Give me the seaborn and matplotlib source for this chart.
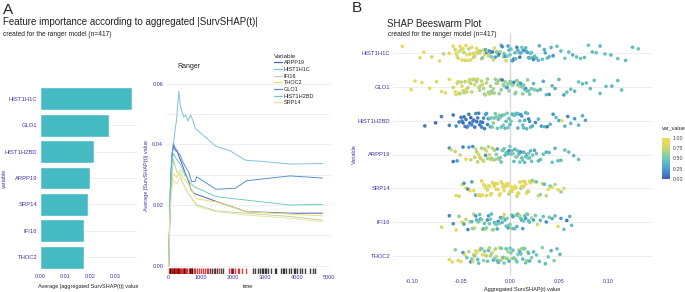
import numpy as np
import pandas as pd
import matplotlib.pyplot as plt
import seaborn as sns
from matplotlib.colors import LinearSegmentedColormap, Normalize
from matplotlib.cm import ScalarMappable

sns.set_style('white')
plt.rcParams['font.family'] = ['Liberation Sans', 'DejaVu Sans']

PURPLE = '#4433b0'
GRID = '#ebebeb'

# ---- panel A, left: aggregated importance
bar_vars = ['HIST1H1C', 'GLO1', 'HIST1H2BD', 'ARPP19', 'SRP14', 'IFI16', 'THOC2']
bar_vals = [0.0367, 0.0276, 0.0217, 0.0199, 0.0191, 0.0176, 0.0175]

# ---- panel A, right: SurvSHAP(t) over time
legend_order = ['ARPP19', 'HIST1H1C', 'IFI16', 'THOC2', 'GLO1', 'HIST1H2BD', 'SRP14']
line_colors = ['#4a62b5', '#7cc3e0', '#b7d8a0', '#f0dc6a', '#5a8fd6', '#6fd0bd', '#eee2a6']

t_hist1h1c = [0, 60, 100, 140, 190, 245, 316, 367, 418, 469, 530, 602, 684, 750, 827, 1011, 1471, 1931, 2391, 3000, 3784, 4800]
v_hist1h1c = [0, 0.030, 0.037, 0.039, 0.044, 0.048, 0.0576, 0.0524, 0.0507, 0.049, 0.0497, 0.0477, 0.0497, 0.048, 0.0453, 0.0436, 0.0394, 0.0378, 0.0348, 0.0343, 0.0335, 0.0337]
t_glo1 = [0, 50, 100, 146, 200, 260, 353, 450, 613, 717, 821, 873, 1476, 2069, 2432, 3784, 4800]
v_glo1 = [0, 0.025, 0.036, 0.0403, 0.038, 0.0375, 0.0365, 0.034, 0.031, 0.0277, 0.0277, 0.0293, 0.0252, 0.0255, 0.028, 0.0296, 0.0289]
t_arpp19 = [0, 60, 110, 160, 210, 260, 320, 400, 500, 613, 700, 800, 1500, 2432, 3784, 4800]
v_arpp19 = [0, 0.028, 0.037, 0.0398, 0.0385, 0.038, 0.036, 0.034, 0.031, 0.028, 0.025, 0.0238, 0.0211, 0.0178, 0.0173, 0.0173]
t_hist1h2bd = [0, 50, 100, 146, 250, 353, 500, 700, 800, 1500, 2432, 3784, 4800]
v_hist1h2bd = [0, 0.022, 0.034, 0.037, 0.035, 0.0337, 0.030, 0.027, 0.026, 0.0227, 0.0216, 0.020, 0.0202]
t_ifi16 = [0, 50, 100, 150, 250, 350, 450, 600, 873, 1500, 2432, 3784, 4800]
v_ifi16 = [0, 0.018, 0.030, 0.035, 0.031, 0.030, 0.027, 0.024, 0.020, 0.018, 0.0173, 0.0162, 0.015]
t_thoc2 = [0, 40, 100, 146, 250, 353, 450, 613, 873, 1500, 2432, 3784, 4800]
v_thoc2 = [0, 0.020, 0.027, 0.0304, 0.029, 0.0315, 0.029, 0.027, 0.022, 0.021, 0.0178, 0.017, 0.0164]
t_srp14 = [0, 40, 100, 146, 250, 353, 450, 600, 873, 1500, 2432, 3784, 4800]
v_srp14 = [0, 0.018, 0.025, 0.0282, 0.027, 0.029, 0.027, 0.024, 0.0195, 0.0178, 0.0167, 0.0156, 0.0145]

event_times = [20, 45, 70, 90, 110, 130, 150, 170, 195, 215, 240, 260, 285, 310, 335, 360, 390, 420, 450,
               480, 510, 545, 580, 620, 660, 700, 740, 780, 830, 880, 950, 1000, 1060, 1120, 1180, 1240,
               1420, 1560, 1870, 1950, 2000, 2080, 2150, 2200, 2300, 2420]
censored_times = [55, 160, 300, 470, 650, 720, 1300, 1350, 1450, 1500, 1620, 1700, 1960, 2620, 2700, 2800,
                  2850, 2900, 2950, 3000, 3050, 3100, 3200, 3300, 3350, 3500, 3550, 3600, 3650, 3750, 3800,
                  3900, 3950, 4000, 4100, 4150, 4250, 4400, 4500, 4550]

# ---- panel B: beeswarm (x in 1/1000, var_value in %)
x_hist1h1c = [-110, -92, -88, -80, -72, -68, -62, -58, -56, -55,
              -54, -53, -52, -51, -50, -49, -48, -47, -46, -45,
              -44, -43, -42, -41, -40, -39, -38, -37, -36, -35,
              -34, -33, -32, -31, -30, -29, -28, -27, -26, -25,
              -24, -23, -22, -21, -20, -19, -18, -17, -16, -15,
              -14, -13, -12, -11, -10, -9, -8, -7, -6, -5,
              -4, -3, -2, -1, 0, 1, 2, 3, 4, 5,
              6, 7, 8, 9, 10, 11, 12, 13, 14, 15,
              16, 17, 18, 19, 20, 21, 22, 23, 24, 25,
              27, 29, 30, 33, 35, 36, 38, 40, 42, 44,
              48, 52, 56, 60, 64, 68, 72, 76, 80, 84,
              88, 92, 97, 103, 110, 118, 125, 131]
c_hist1h1c = [90, 85, 95, 80, 90, 70, 85, 90, 75, 85,
              88, 80, 90, 92, 75, 85, 95, 70, 80, 88,
              88, 90, 70, 78, 92, 86, 85, 70, 78, 88,
              90, 80, 82, 75, 70, 65, 60, 85, 88, 30,
              20, 70, 75, 15, 40, 55, 10, 80, 85, 25,
              55, 60, 30, 10, 65, 45, 15, 75, 45, 20,
              80, 50, 25, 35, 50, 45, 40, 25, 20, 40,
              45, 15, 35, 48, 10, 35, 50, 42, 30, 20,
              42, 40, 25, 30, 38, 45, 48, 38, 15, 42,
              40, 40, 35, 45, 35, 30, 45, 40, 38, 20,
              45, 40, 50, 42, 35, 45, 50, 40, 48, 42,
              45, 38, 45, 40, 48, 42, 40, 45]
x_glo1 = [-101, -97, -90, -82, -75, -70, -66, -62, -58, -56,
          -55, -54, -53, -52, -51, -50, -49, -48, -47, -46,
          -45, -44, -43, -42, -41, -40, -39, -38, -37, -36,
          -35, -34, -33, -32, -31, -30, -29, -28, -27, -26,
          -25, -24, -23, -22, -21, -20, -19, -18, -17, -16,
          -15, -14, -13, -12, -11, -10, -9, -8, -7, -6,
          -5, -4, -3, -2, -1, 0, 1, 2, 3, 4,
          5, 6, 7, 8, 9, 10, 11, 12, 13, 14,
          15, 16, 17, 18, 19, 20, 22, 24, 25, 28,
          31, 34, 37, 40, 43, 46, 50, 55, 58, 62,
          66, 70, 74, 78, 82, 86, 92, 98, 104, 110, 114]
c_glo1 = [90, 85, 95, 88, 80, 92, 85, 90, 75, 88,
          85, 78, 80, 90, 72, 75, 82, 88, 68, 70,
          85, 78, 72, 85, 80, 68, 76, 72, 82, 80,
          70, 65, 78, 75, 68, 70, 74, 78, 66, 62,
          72, 70, 64, 66, 70, 65, 62, 60, 66, 70,
          62, 58, 64, 65, 60, 62, 58, 10, 64, 60,
          62, 68, 20, 55, 60, 62, 56, 58, 62, 15,
          58, 60, 55, 52, 62, 65, 25, 55, 58, 50,
          55, 20, 52, 58, 48, 52, 48, 40, 55, 45,
          40, 30, 45, 20, 42, 35, 40, 25, 45, 45,
          40, 48, 42, 45, 40, 44, 42, 45, 40, 45, 42]
x_hist1h2bd = [-87, -76, -70, -62, -58, -55, -52, -50, -49, -48,
               -47, -46, -45, -44, -43, -42, -41, -40, -39, -38,
               -37, -36, -35, -34, -33, -32, -31, -30, -29, -28,
               -27, -26, -25, -24, -23, -22, -21, -20, -19, -18,
               -17, -16, -15, -14, -13, -12, -11, -10, -9, -8,
               -7, -6, -5, -4, -3, -2, -1, 0, 1, 2,
               3, 4, 5, 6, 7, 8, 9, 10, 11, 12,
               13, 14, 15, 16, 17, 18, 19, 20, 21, 23,
               26, 29, 32, 35, 38, 41, 44, 47, 50, 53,
               56, 59, 62, 66, 70, 74, 77]
c_hist1h2bd = [10, 5, 12, 15, 8, 20, 12, 10, 18, 5,
               8, 15, 10, 8, 20, 12, 6, 3, 14, 18,
               10, 10, 22, 6, 12, 14, 8, 20, 15, 8,
               18, 12, 30, 25, 15, 10, 40, 30, 50, 55,
               60, 45, 52, 60, 48, 40, 58, 50, 45, 35,
               50, 55, 40, 42, 52, 48, 45, 38, 50, 45,
               42, 30, 48, 50, 38, 35, 45, 42, 20, 25,
               45, 40, 35, 32, 42, 45, 15, 20, 38, 35,
               15, 40, 25, 42, 12, 38, 20, 40, 30, 85,
               38, 15, 40, 25, 42, 35, 30]
x_arpp19 = [-62, -60, -58, -56, -54, -51, -48, -45, -42, -40,
            -38, -36, -35, -34, -33, -32, -31, -30, -29, -28,
            -27, -26, -25, -24, -23, -22, -21, -20, -19, -18,
            -17, -16, -15, -14, -13, -12, -11, -10, -9, -8,
            -7, -6, -5, -4, -3, -2, -1, 0, 1, 2,
            3, 4, 5, 6, 7, 8, 9, 10, 11, 12,
            13, 14, 15, 16, 17, 18, 19, 20, 21, 22,
            23, 25, 27, 29, 31, 34, 37, 40, 43, 46,
            49, 52, 56, 60, 65, 70]
c_arpp19 = [20, 85, 10, 70, 25, 80, 15, 90, 30, 75,
            20, 75, 80, 68, 70, 82, 85, 72, 65, 78,
            75, 70, 20, 80, 70, 66, 78, 74, 60, 70,
            72, 68, 65, 55, 30, 62, 68, 50, 45, 52,
            55, 48, 40, 50, 60, 42, 15, 52, 48, 45,
            52, 40, 38, 55, 58, 44, 42, 48, 20, 40,
            50, 38, 45, 42, 35, 50, 55, 44, 40, 46,
            48, 30, 45, 38, 40, 45, 35, 42, 48, 38,
            44, 40, 45, 42, 40, 44]
x_srp14 = [-55, -52, -49, -47, -45, -43, -41, -39, -37, -35,
           -33, -32, -31, -30, -29, -28, -27, -26, -25, -24,
           -23, -22, -21, -20, -19, -18, -17, -16, -15, -14,
           -13, -12, -11, -10, -9, -8, -7, -6, -5, -4,
           -3, -2, -1, 0, 1, 2, 3, 4, 5, 6,
           7, 8, 9, 10, 11, 12, 13, 14, 15, 16,
           17, 18, 19, 20, 21, 23, 25, 27, 29, 31,
           33, 35, 37, 39, 41, 43, 46, 49, 52, 55]
c_srp14 = [90, 80, 92, 20, 88, 15, 85, 30, 90, 25,
           85, 88, 90, 82, 85, 90, 92, 86, 88, 84,
           80, 90, 95, 88, 86, 92, 90, 84, 82, 88,
           88, 90, 92, 86, 85, 94, 80, 88, 90, 85,
           87, 90, 70, 88, 88, 82, 84, 90, 91, 86,
           78, 88, 86, 84, 65, 90, 88, 82, 80, 86,
           90, 84, 75, 88, 85, 55, 88, 45, 80, 60,
           85, 40, 75, 90, 50, 85, 70, 88, 60, 85]
x_ifi16 = [-70, -62, -58, -55, -52, -49, -47, -45, -43, -41,
           -39, -38, -37, -36, -35, -34, -33, -32, -31, -30,
           -29, -28, -27, -26, -25, -24, -23, -22, -21, -20,
           -19, -18, -17, -16, -15, -14, -13, -12, -11, -10,
           -9, -8, -7, -6, -5, -4, -3, -2, -1, 0,
           1, 2, 3, 4, 5, 6, 7, 8, 9, 10,
           11, 12, 13, 14, 15, 16, 17, 18, 19, 20,
           22, 24, 26, 28, 31, 34, 37, 40, 43, 46,
           49, 52, 55, 58, 61, 63]
c_ifi16 = [80, 15, 20, 85, 60, 90, 30, 75, 15, 65,
           40, 50, 70, 80, 25, 30, 60, 55, 45, 20,
           55, 70, 35, 45, 65, 60, 20, 25, 50, 50,
           40, 75, 60, 35, 45, 55, 30, 15, 50, 60,
           25, 40, 65, 80, 35, 50, 55, 30, 45, 55,
           60, 45, 30, 20, 50, 60, 40, 40, 55, 70,
           45, 35, 25, 50, 40, 25, 60, 55, 35, 45,
           65, 30, 50, 85, 40, 45, 20, 50, 35, 42,
           85, 25, 45, 10, 40, 45]
x_thoc2 = [-62, -59, -56, -53, -50, -48, -46, -44, -42, -40,
           -39, -38, -37, -36, -35, -34, -33, -32, -31, -30,
           -29, -28, -27, -26, -25, -24, -23, -22, -21, -20,
           -19, -18, -17, -16, -15, -14, -13, -12, -11, -10,
           -9, -8, -7, -6, -5, -4, -3, -2, -1, 0,
           1, 2, 3, 4, 5, 6, 7, 8, 9, 10,
           11, 12, 13, 14, 15, 16, 17, 18, 19, 20,
           22, 24, 27, 30, 33, 36, 39, 42, 45, 48, 51]
c_thoc2 = [85, 90, 60, 80, 95, 25, 88, 50, 70, 15,
           55, 80, 65, 60, 85, 90, 40, 45, 75, 70,
           50, 85, 60, 55, 80, 75, 45, 40, 70, 65,
           55, 88, 35, 50, 65, 70, 45, 35, 85, 60,
           50, 80, 40, 55, 70, 45, 60, 65, 35, 50,
           55, 75, 45, 40, 65, 60, 50, 55, 70, 30,
           45, 65, 40, 50, 55, 45, 60, 70, 40, 35,
           55, 40, 50, 45, 60, 40, 50, 35, 55, 45, 40]

swarm_order = ['HIST1H1C', 'GLO1', 'HIST1H2BD', 'ARPP19', 'SRP14', 'IFI16', 'THOC2']
swarm_x = [x_hist1h1c, x_glo1, x_hist1h2bd, x_arpp19, x_srp14, x_ifi16, x_thoc2]
swarm_c = [c_hist1h1c, c_glo1, c_hist1h2bd, c_arpp19, c_srp14, c_ifi16, c_thoc2]

# ---------------------------------------------------------------
W, H = 685, 292
fig = plt.figure(figsize=(W / 100, H / 100), dpi=100)


def px_axes(l, t, r, b):
    return fig.add_axes([l / W, 1 - b / H, (r - l) / W, (b - t) / H])


def clean(ax):
    for s in ax.spines.values():
        s.set_visible(False)
    ax.tick_params(length=0, labelsize=4, labelcolor=PURPLE, pad=2)
    ax.tick_params(axis='x', pad=1)


# panel A left - bars
ax1 = px_axes(40, 83, 137, 273)
sns.barplot(x=bar_vals, y=bar_vars, color='#46bac2', saturation=1, width=0.86, orient='h', ax=ax1, zorder=2)
ax1.set_xlim(0, 0.0388)
ax1.set_ylim(6.6, -0.6)
ax1.set_xticks([0, 0.01, 0.02, 0.03])
ax1.set_xticklabels(['0.00', '0.01', '0.02', '0.03'])
ax1.grid(axis='y', color=GRID, lw=0.6, zorder=0)
ax1.grid(axis='x', visible=False)
ax1.set_xlabel('Average |aggregated SurvSHAP(t)| value', fontsize=4, color='#222222', labelpad=3)
ax1.set_ylabel('variable', fontsize=4, color=PURPLE)
ax1.yaxis.set_label_coords(-0.345, 0.5)
clean(ax1)
ax1.tick_params(axis='y', labelsize=4.2)

# panel A right - lines over time
ax2 = px_axes(166, 78, 331, 273.5)
frames = []
for name, t, v in [('ARPP19', t_arpp19, v_arpp19), ('HIST1H1C', t_hist1h1c, v_hist1h1c),
                   ('IFI16', t_ifi16, v_ifi16), ('THOC2', t_thoc2, v_thoc2),
                   ('GLO1', t_glo1, v_glo1), ('HIST1H2BD', t_hist1h2bd, v_hist1h2bd),
                   ('SRP14', t_srp14, v_srp14)]:
    frames.append(pd.DataFrame({'time': t, 'value': v, 'Variable': name}))
lines = pd.concat(frames, ignore_index=True)
sns.lineplot(data=lines, x='time', y='value', hue='Variable', hue_order=legend_order,
             palette=dict(zip(legend_order, line_colors)), estimator=None, lw=0.7, ax=ax2)
sns.rugplot(x=event_times, ax=ax2, height=0.028, color='#d40000', lw=0.8, alpha=0.75)
sns.rugplot(x=censored_times, ax=ax2, height=0.028, color='black', lw=0.8, alpha=0.75)
ax2.set_xlim(-84, 5062)
ax2.set_ylim(-0.0026, 0.0619)
ax2.set_yticks([0, 0.02, 0.04, 0.06])
ax2.set_yticklabels(['0.00', '0.02', '0.04', '0.06'])
ax2.set_yticks([0.01, 0.03, 0.05], minor=True)
ax2.set_xticks([0, 1000, 2000, 3000, 4000, 5000])
ax2.grid(axis='y', which='both', color=GRID, lw=0.6)
ax2.grid(axis='x', visible=False)
ax2.set_xlabel('time', fontsize=4, color='#222222', labelpad=3)
ax2.set_ylabel('Average |SurvSHAP(t)| value', fontsize=4, color=PURPLE, labelpad=2)
clean(ax2)
ax2.tick_params(which='minor', length=0)
leg = ax2.legend(title='Variable', loc='upper left', bbox_to_anchor=(271 / W, 1 - 51 / H),
                 bbox_transform=fig.transFigure, frameon=False, fontsize=4, title_fontsize=4.5,
                 handlelength=1.4, labelspacing=0.3, handletextpad=0.4, borderpad=0)
leg._legend_box.align = 'left'
for l in leg.get_lines():
    l.set_linewidth(0.9)
ax2.text(177 / W, 1 - 66 / H, 'Ranger', transform=fig.transFigure, fontsize=5, va='center', color='#222222')

# panel B - beeswarm
ax3 = px_axes(393, 33, 652, 276)
swarm = pd.concat([pd.DataFrame({'x': np.array(xs) / 1000, 'var_value': np.array(cs) / 100, 'Variable': name})
                   for name, xs, cs in zip(swarm_order, swarm_x, swarm_c)], ignore_index=True)
cmap = LinearSegmentedColormap.from_list(
    'survshap', [(0, '#3d5fb0'), (0.25, '#4a9fcc'), (0.5, '#6fcab8'), (0.7, '#b5d57e'),
                 (0.85, '#e2d960'), (1, '#eed85a')])
norm = Normalize(0, 1)
ax3.axvline(0, color='#dadada', lw=1.0, zorder=0)
np.random.seed(7)
sns.stripplot(data=swarm, x='x', y='Variable', hue='var_value', palette=cmap, hue_norm=norm,
              order=swarm_order, jitter=0.24, size=2.6, linewidth=0, legend=False, ax=ax3, zorder=3)
ax3.set_xlim(-0.1195, 0.145)
ax3.set_ylim(6.6, -0.6)
ax3.set_xticks([-0.10, -0.05, 0, 0.05, 0.10])
ax3.set_xticklabels(['-0.10', '-0.05', '0.00', '0.05', '0.10'])
ax3.grid(axis='y', color=GRID, lw=0.6, zorder=0)
ax3.grid(axis='x', visible=False)
ax3.set_xlabel('Aggregated SurvSHAP(t) value', fontsize=4, color='#222222', labelpad=2)
ax3.set_ylabel('Variable', fontsize=4, color=PURPLE)
ax3.yaxis.set_label_coords(-0.141, 0.5)
clean(ax3)
ax3.tick_params(axis='x', pad=2)
ax3.tick_params(axis='y', labelsize=4.2)

cax = px_axes(662, 138, 670, 179)
cb = fig.colorbar(ScalarMappable(norm=norm, cmap=cmap), cax=cax)
cb.outline.set_visible(False)
cb.set_ticks([0, 0.25, 0.5, 0.75, 1.0])
cb.set_ticklabels(['0.00', '0.25', '0.50', '0.75', '1.00'])
cax.tick_params(length=0, labelsize=3.8, labelcolor='#444444', pad=2)
fig.text(662 / W, 1 - 128 / H, 'var_value', fontsize=4, color='#222222', va='center')

# titles
fig.text(3 / W, 1 - 10 / H, 'A', fontsize=11, va='center')
fig.text(352 / W, 1 - 8 / H, 'B', fontsize=11, va='center')
fig.text(3 / W, 1 - 22 / H, 'Feature importance according to aggregated |SurvSHAP(t)|', fontsize=7, va='center',
         color='#222222')
fig.text(3 / W, 1 - 34 / H, 'created for the ranger model (n=417)', fontsize=4.8, va='center', color='#222222')
fig.text(387 / W, 1 - 24 / H, 'SHAP Beeswarm Plot', fontsize=7, va='center', color='#222222')
fig.text(388 / W, 1 - 35 / H, 'created for the ranger model (n=417)', fontsize=4.8, va='center', color='#222222')

fig.savefig('out.png', dpi=100)
